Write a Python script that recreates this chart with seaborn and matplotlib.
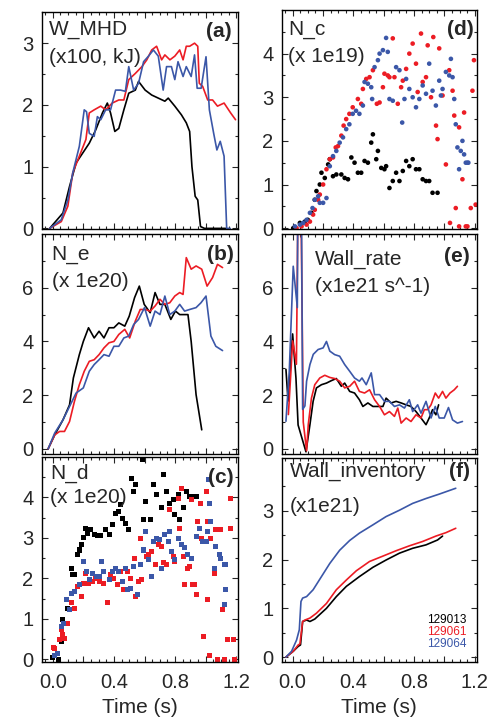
import matplotlib
matplotlib.use('Agg')
import matplotlib.pyplot as plt
import numpy as np
import pandas as pd
import seaborn as sns
from matplotlib.ticker import MultipleLocator, FixedLocator, FuncFormatter

SHOTS = ['129013', '129061', '129064']
COLORS = ['#000000', '#ec1c24', '#3b57a8']

# (a) W_MHD
WMHD_T_013 = [-0.02, 0.067, 0.11, 0.153, 0.196, 0.239, 0.282, 0.325, 0.357, 0.378, 0.406, 0.432, 0.465,
              0.497, 0.54, 0.561, 0.604, 0.647, 0.69, 0.733, 0.755, 0.798, 0.841, 0.873, 0.895, 0.91,
              0.931, 0.948, 0.966, 0.992, 1.13]
WMHD_013 = [0, 0.25, 0.68, 1.06, 1.22, 1.38, 1.6, 1.87, 2.03, 1.87, 1.57, 1.62, 1.92,
            2.19, 2.24, 2.38, 2.24, 2.16, 2.11, 2.06, 2.11, 1.98, 1.84, 1.71, 1.57, 1.0,
            0.52, 0.46, 0.03, 0, 0]
WMHD_T_061 = [-0.02, 0.056, 0.099, 0.131, 0.174, 0.217, 0.239, 0.271, 0.314, 0.346, 0.389, 0.432, 0.465,
              0.497, 0.54, 0.583, 0.615, 0.647, 0.679, 0.712, 0.733, 0.766, 0.798, 0.83, 0.852, 0.873,
              0.895, 0.927, 0.948, 0.958, 0.98, 1.013, 1.045, 1.077, 1.12, 1.163, 1.195]
WMHD_061 = [0, 0.11, 0.36, 0.9, 1.17, 1.44, 1.87, 1.92, 1.98, 1.92, 2.03, 2.08, 2.08,
            2.41, 2.51, 2.62, 2.73, 2.89, 2.95, 2.73, 2.81, 2.73, 2.79, 2.89, 2.73, 2.95,
            2.95, 3.0, 2.95, 2.35, 2.3, 2.08, 2.08, 1.98, 2.03, 1.87, 1.76]
WMHD_T_064 = [-0.02, 0.056, 0.099, 0.131, 0.174, 0.206, 0.221, 0.239, 0.271, 0.292, 0.314, 0.346, 0.378,
              0.411, 0.443, 0.475, 0.497, 0.529, 0.561, 0.594, 0.626, 0.658, 0.69, 0.722, 0.744, 0.776,
              0.798, 0.819, 0.852, 0.873, 0.905, 0.927, 0.944, 0.97, 1.002, 1.024, 1.052, 1.073, 1.095,
              1.12, 1.137, 1.16]
WMHD_064 = [0, 0.14, 0.46, 0.9, 1.33, 1.92, 1.89, 1.54, 1.49, 1.81, 1.76, 1.92, 1.92,
            2.24, 2.24, 2.22, 2.62, 2.24, 2.35, 2.7, 2.79, 2.89, 2.79, 2.24, 2.62, 2.62,
            2.41, 2.7, 2.46, 2.62, 2.46, 2.81, 2.27, 2.27, 2.78, 1.92, 1.54, 1.27, 1.41,
            1.17, 0, 0]

# (b) N_e
NE_T_013 = [-0.03, 0.013, 0.067, 0.11, 0.135, 0.174, 0.2, 0.234, 0.271, 0.303, 0.335, 0.368, 0.4, 0.432,
            0.471, 0.5, 0.535, 0.566, 0.598, 0.637, 0.669, 0.701, 0.733, 0.772, 0.802, 0.83, 0.862,
            0.884, 0.905, 0.937, 0.974]
NE_013 = [0, 0.52, 1.08, 1.64, 2.64, 3.51, 4.0, 4.51, 4.13, 4.38, 4.13, 4.51, 4.51, 4.69,
          4.57, 4.94, 5.63, 6.06, 5.38, 5.07, 5.82, 5.38, 5.38, 4.82, 5.13, 5.0, 5.0,
          5.0, 4.0, 2.02, 0.71]
NE_T_061 = [-0.03, 0.013, 0.045, 0.077, 0.11, 0.142, 0.174, 0.206, 0.239, 0.271, 0.303, 0.335, 0.368,
            0.4, 0.432, 0.471, 0.503, 0.54, 0.572, 0.604, 0.637, 0.669, 0.701, 0.733, 0.765, 0.798,
            0.83, 0.852, 0.873, 0.905, 0.937, 0.974, 1.009, 1.045, 1.077, 1.11]
NE_061 = [0, 0.52, 0.65, 0.65, 1.02, 1.77, 2.39, 2.89, 3.26, 3.32, 3.51, 3.76, 3.95,
          4.0, 4.26, 4.45, 4.13, 4.76, 5.19, 5.19, 5.13, 5.32, 5.57, 5.38, 5.44, 5.69,
          5.82, 5.75, 7.12, 6.69, 6.81, 6.69, 6.06, 6.38, 6.87, 6.75]
NE_T_064 = [-0.03, 0.013, 0.067, 0.11, 0.153, 0.2, 0.239, 0.271, 0.303, 0.335, 0.368, 0.4, 0.432,
            0.465, 0.497, 0.529, 0.561, 0.6, 0.637, 0.669, 0.701, 0.733, 0.765, 0.798, 0.83, 0.862,
            0.895, 0.937, 0.969, 1.002, 1.034, 1.066, 1.11]
NE_064 = [0, 0.59, 1.08, 1.58, 2.08, 2.27, 2.89, 3.14, 3.32, 3.51, 3.45, 3.82, 3.82,
          4.13, 4.2, 4.63, 4.82, 5.26, 4.57, 5.13, 5.0, 5.69, 5.0, 5.13, 5.38, 5.13,
          5.19, 5.26, 5.44, 5.69, 4.2, 3.82, 3.66]

# (c) N_d
ND_T_013 = [-0.002, 0.041, 0.056, 0.067, 0.099, 0.12, 0.131, 0.142, 0.164, 0.174, 0.185, 0.2, 0.217,
            0.228, 0.249, 0.271, 0.292, 0.314, 0.346, 0.368, 0.389, 0.411, 0.432, 0.443, 0.458, 0.475,
            0.497, 0.518, 0.529, 0.54, 0.587, 0.594, 0.604, 0.637, 0.658, 0.679, 0.712, 0.722, 0.744,
            0.765, 0.787, 0.798, 0.819, 0.83, 0.852, 0.873, 0.895, 0.927, 0.937]
ND_013 = [0.04, 0, 0.44, 0.97, 1.26, 2.25, 2.09, 2.09, 2.58, 2.7, 2.83, 3.02, 3.24,
          3.12, 3.2, 3.08, 3.05, 3.05, 3.2, 3.08, 3.32, 3.61, 3.65, 3.82, 3.49, 3.36,
          3.2, 4.48, 4.15, 4.31, 4.93, 3.46, 3.9, 3.46, 4.31, 4.07, 3.74, 4.56, 4.15,
          3.86, 3.94, 3.57, 4.07, 3.45, 3.74, 4.15, 4.02, 4.02, 4.02]
ND_T_061 = [0.002, 0.013, 0.045, 0.056, 0.067, 0.077, 0.099, 0.12, 0.142, 0.164, 0.185, 0.2, 0.217,
            0.234, 0.26, 0.282, 0.303, 0.335, 0.357, 0.378, 0.4, 0.421, 0.443, 0.465, 0.486, 0.508,
            0.535, 0.54, 0.561, 0.572, 0.583, 0.615, 0.626, 0.647, 0.669, 0.69, 0.712, 0.722, 0.744,
            0.765, 0.787, 0.798, 0.819, 0.83, 0.841, 0.852, 0.862, 0.884, 0.895, 0.905, 0.916, 0.927,
            0.937, 0.948, 0.966, 0.97, 0.987, 1.002, 1.013, 1.01, 1.023, 1.034, 1.055, 1.066, 1.077,
            1.098, 1.109, 1.12, 1.14, 1.163, 1.163, 1.18, 1.19]
ND_061 = [0.3, 0.27, 0.48, 0.73, 0.6, 0.52, 0.89, 1.39, 1.26, 1.8, 1.55, 1.88, 2.13,
          1.88, 1.92, 2.0, 1.92, 1.88, 1.39, 2.09, 2.0, 1.84, 2.17, 1.72, 2.17, 2.0,
          2.5, 1.55, 1.92, 2.99, 1.96, 2.54, 2.58, 2.66, 2.33, 2.83, 2.79, 2.38, 2.33,
          3.69, 2.54, 2.42, 3.98, 3.24, 4.23, 2.54, 1.84, 2.25, 2.29, 3.94, 1.84, 1.84,
          1.59, 3.41, 3.86, 2.99, 0.56, 4.15, 3.41, 1.47, 0.1, 2.99, 2.13, 3.2, 0.0,
          3.2, 1.22, 0.0, 0.48, 3.98, 3.24, 0.48, 0.0]
ND_T_064 = [0.013, 0.034, 0.056, 0.073, 0.088, 0.11, 0.12, 0.142, 0.174, 0.2, 0.221, 0.243, 0.26,
            0.285, 0.303, 0.32, 0.335, 0.368, 0.389, 0.411, 0.432, 0.454, 0.475, 0.486, 0.508, 0.529,
            0.551, 0.572, 0.594, 0.604, 0.626, 0.647, 0.658, 0.679, 0.701, 0.712, 0.733, 0.755, 0.765,
            0.776, 0.798, 0.819, 0.841, 0.862, 0.884, 0.905, 0.937, 0.958, 0.98, 1.002, 1.01, 1.02,
            1.023, 1.034, 1.055, 1.066, 1.087, 1.098, 1.12, 1.13, 1.13, 1.12]
ND_064 = [0.1, 0.15, 0.81, 0.89, 1.47, 1.22, 1.63, 1.67, 1.84, 2.42, 2.17, 1.96, 2.13,
          2.05, 2.05, 2.42, 2.17, 1.96, 2.17, 2.25, 2.17, 1.92, 2.25, 1.72, 1.76, 2.29,
          1.59, 2.33, 2.7, 3.16, 2.46, 2.05, 2.91, 2.99, 2.95, 2.25, 3.08, 2.91, 3.16,
          2.66, 2.46, 2.99, 2.83, 2.75, 2.58, 2.5, 3.03, 3.24, 2.91, 2.91, 3.16, 4.45,
          3.86, 3.41, 2.25, 2.79, 2.58, 2.5, 2.33, 2.33, 1.72, 1.34]

# (d) N_c
NC_T_013 = [0.004, 0.048, 0.081, 0.1, 0.124, 0.146, 0.157, 0.179, 0.19, 0.212, 0.234, 0.245, 0.266,
            0.288, 0.321, 0.343, 0.365, 0.387, 0.408, 0.43, 0.452, 0.474, 0.496, 0.518, 0.529, 0.551,
            0.562, 0.584, 0.605, 0.616, 0.638, 0.66, 0.682, 0.704, 0.726, 0.748, 0.769, 0.791, 0.813,
            0.835, 0.857, 0.879, 0.9, 0.922, 0.955]
NC_013 = [0, 0.12, 0.15, 0.19, 0.35, 0.65, 0.85, 1.0, 1.27, 1.15, 1.46, 1.58, 1.19,
          1.23, 1.23, 1.15, 1.12, 1.62, 1.5, 1.27, 1.27, 1.54, 1.5, 1.96, 2.15, 1.58,
          1.77, 1.38, 1.35, 1.42, 0.92, 1.08, 1.27, 1.08, 1.31, 1.54, 1.42, 1.58, 1.35,
          1.35, 1.12, 1.08, 1.08, 0.81, 0.81]
NC_T_061 = [0.026, 0.059, 0.092, 0.114, 0.135, 0.146, 0.168, 0.179, 0.201, 0.223, 0.245, 0.266, 0.284,
            0.299, 0.321, 0.336, 0.353, 0.374, 0.396, 0.43, 0.452, 0.463, 0.485, 0.507, 0.529, 0.555,
            0.573, 0.595, 0.605, 0.627, 0.638, 0.66, 0.671, 0.693, 0.715, 0.726, 0.748, 0.769, 0.791,
            0.813, 0.824, 0.846, 0.857, 0.879, 0.89, 0.912, 0.927, 0.945, 0.955, 0.966, 0.988, 1.01,
            1.032, 1.037, 1.054, 1.065, 1.075, 1.097, 1.097, 1.119, 1.13, 1.141, 1.152, 1.174, 1.185,
            1.195, 1.206]
NC_061 = [0, 0.04, 0.08, 0.15, 0.31, 0.42, 0.65, 0.77, 1.0, 1.35, 1.58, 1.62, 1.85,
          1.88, 2.12, 2.35, 2.5, 2.62, 2.77, 2.96, 2.85, 3.19, 3.42, 3.46, 3.62, 2.85,
          2.88, 3.23, 3.54, 3.5, 3.46, 4.35, 3.46, 2.85, 3.23, 3.38, 3.65, 4.0, 4.23,
          3.77, 3.12, 4.46, 3.35, 3.46, 4.19, 3.0, 4.38, 2.35, 2.04, 4.12, 3.04, 1.46,
          3.62, 0.12, 3.15, 2.58, 0.46, 2.31, 0.04, 1.12, 2.65, 0.04, 0.04, 0.46, 3.15,
          3.85, 0.54]
NC_T_064 = [0.015, 0.048, 0.07, 0.092, 0.114, 0.131, 0.146, 0.168, 0.179, 0.201, 0.223, 0.245, 0.266,
            0.288, 0.31, 0.332, 0.353, 0.374, 0.396, 0.418, 0.44, 0.463, 0.474, 0.496, 0.518, 0.524,
            0.54, 0.562, 0.573, 0.595, 0.616, 0.627, 0.638, 0.66, 0.682, 0.704, 0.722, 0.737, 0.748,
            0.769, 0.791, 0.813, 0.835, 0.857, 0.879, 0.9, 0.922, 0.944, 0.966, 0.977, 0.988, 1.01,
            1.032, 1.043, 1.054, 1.065, 1.075, 1.086, 1.097, 1.108, 1.119, 1.13, 1.141, 1.152, 1.158]
NC_064 = [0.04, 0.08, 0.12, 0.19, 0.35, 0.46, 0.65, 0.73, 0.58, 0.58, 0.69, 1.42, 1.65,
          1.77, 1.96, 2.08, 2.27, 2.38, 2.62, 2.69, 2.62, 2.81, 3.35, 3.31, 3.23, 2.96,
          3.69, 3.85, 4.0, 4.08, 4.36, 4.04, 2.96, 2.92, 3.69, 3.62, 2.42, 2.96, 3.42,
          3.19, 3.0, 2.77, 2.96, 3.27, 3.08, 3.77, 3.15, 2.81, 3.38, 3.04, 3.19, 3.58,
          3.5, 3.88, 3.46, 2.96, 2.38, 1.85, 1.35, 1.77, 2.0, 1.69, 1.5, 1.5, 1.5]

# (e) Wall_rate
WR_T_013 = [-0.044, -0.03, 0.0, 0.022, 0.036, 0.088, 0.114, 0.135, 0.157, 0.19, 0.223, 0.255, 0.288,
            0.321, 0.343, 0.376, 0.408, 0.44, 0.463, 0.496, 0.529, 0.562, 0.595, 0.616, 0.649, 0.682,
            0.715, 0.748, 0.78, 0.813, 0.846, 0.879, 0.9, 0.922, 0.944, 0.962]
WR_013 = [2.96, 1.78, 4.28, 2.63, 0.89, -0.11, 0.9, 1.77, 2.27, 2.39, 2.45, 2.54, 2.62,
          2.33, 2.45, 2.14, 2.08, 1.83, 1.58, 1.71, 1.58, 1.58, 1.58, 1.89, 1.71, 1.77,
          1.71, 1.64, 1.58, 1.39, 1.15, 0.9, 1.15, 1.46, 1.27, 1.64]
WR_T_061 = [-0.028, -0.01, 0.0, 0.012, 0.025, 0.04, 0.05, 0.07, 0.092, 0.103, 0.124, 0.146, 0.179,
            0.212, 0.245, 0.277, 0.31, 0.343, 0.376, 0.408, 0.44, 0.474, 0.507, 0.54, 0.573, 0.605,
            0.638, 0.671, 0.693, 0.715, 0.748, 0.78, 0.813, 0.846, 0.868, 0.89, 0.912, 0.94, 0.962,
            0.988, 1.01, 1.037, 1.065, 1.086]
WR_061 = [1.28, 3.0, 4.02, 3.6, 3.15, 12.0, 12.0, 1.0, -0.07, 0.9, 1.89, 2.39, 2.64,
          2.74, 2.66, 2.62, 2.52, 2.27, 2.33, 2.52, 2.14, 2.08, 2.2, 1.83, 1.58, 1.27,
          1.39, 1.21, 1.52, 0.96, 1.15, 1.02, 1.27, 1.15, 1.46, 1.46, 1.64, 2.08, 1.89,
          2.14, 1.89, 2.08, 2.2, 2.33]
WR_T_064 = [-0.044, -0.022, 0.004, 0.018, 0.031, 0.036, 0.055, 0.066, 0.081, 0.092, 0.114, 0.136, 0.168,
            0.201, 0.223, 0.245, 0.277, 0.31, 0.343, 0.376, 0.408, 0.44, 0.457, 0.485, 0.518, 0.54,
            0.573, 0.605, 0.638, 0.671, 0.704, 0.737, 0.769, 0.791, 0.824, 0.846, 0.879, 0.912, 0.94,
            0.966, 0.999, 1.027, 1.054, 1.086, 1.119]
WR_064 = [1.03, 2.9, 6.8, 6.0, 5.26, 12.0, 12.0, 1.47, 1.6, 2.52, 3.14, 3.52, 3.7,
          3.76, 4.0, 3.64, 3.51, 3.45, 3.14, 2.89, 2.64, 2.52, 2.64, 2.39, 2.83, 2.02,
          2.02, 1.77, 1.77, 1.58, 1.64, 1.52, 1.83, 1.39, 1.64, 1.33, 1.77, 1.15, 1.58,
          1.15, 1.15, 1.54, 1.08, 0.96, 1.02]

# (f) Wall_inventory
WI_T_013 = [-0.044, 0.004, 0.037, 0.052, 0.066, 0.092, 0.114, 0.146, 0.223, 0.288, 0.354, 0.44, 0.529,
            0.616, 0.704, 0.791, 0.879, 0.955, 0.988]
WI_013 = [0, 0.12, 0.22, 0.25, 0.73, 0.76, 0.73, 0.78, 1.0, 1.24, 1.45, 1.65, 1.84,
          1.99, 2.13, 2.23, 2.3, 2.4, 2.48]
WI_T_061 = [-0.044, 0.004, 0.037, 0.048, 0.066, 0.081, 0.114, 0.157, 0.223, 0.288, 0.354, 0.42, 0.507,
            0.595, 0.682, 0.769, 0.857, 0.944, 1.01, 1.075]
WI_061 = [0, 0.12, 0.25, 0.27, 0.73, 0.76, 0.8, 0.9, 1.1, 1.38, 1.58, 1.77, 1.96,
          2.07, 2.18, 2.28, 2.37, 2.48, 2.55, 2.64]
WI_T_064 = [-0.044, -0.007, 0.026, 0.044, 0.055, 0.066, 0.092, 0.135, 0.19, 0.245, 0.31, 0.376, 0.44,
            0.529, 0.616, 0.704, 0.791, 0.879, 0.966, 1.075]
WI_064 = [0, 0.12, 0.35, 0.56, 1.14, 1.21, 1.24, 1.38, 1.65, 1.92, 2.19, 2.39, 2.54,
          2.71, 2.88, 3.01, 3.15, 3.25, 3.34, 3.46]


def to_long(series):
    frames = []
    for shot, (t, v) in zip(SHOTS, series):
        frames.append(pd.DataFrame({'time': t, 'value': v, 'shot': shot}))
    return pd.concat(frames, ignore_index=True)


PANELS = [
    dict(series=[(WMHD_T_013, WMHD_013), (WMHD_T_061, WMHD_061), (WMHD_T_064, WMHD_064)],
         kind='line', box=(12.3, 229, 41.7, 238.3), ylim=(-0.01, 3.5), major=1, minor=0.5,
         title=('W_MHD', '(x100, kJ)'), tx=0.037, ty=(0.895, 0.765), letter='(a)', lx=0.966, ly=0.887),
    dict(series=[(NE_T_013, NE_013), (NE_T_061, NE_061), (NE_T_064, NE_064)],
         kind='line', box=(234, 454, 41.7, 238.3), ylim=(-0.19, 8.0), major=2, minor=1,
         title=('N_e', '(x 1e20)'), tx=0.051, ty=(0.882, 0.76), letter='(b)', lx=0.975, ly=0.882),
    dict(series=[(ND_T_013, ND_013), (ND_T_061, ND_061), (ND_T_064, ND_064)],
         kind='square', box=(457, 662, 41.7, 238.3), ylim=(-0.07, 5.0), major=1, minor=0.5,
         title=('N_d', '(x 1e20)'), tx=0.042, ty=(0.896, 0.774), letter='(c)', lx=0.975, ly=0.872),
    dict(series=[(NC_T_013, NC_013), (NC_T_061, NC_061), (NC_T_064, NC_064)],
         kind='dot', box=(10, 229, 281.7, 476.7), ylim=(-0.02, 5.0), major=1, minor=0.5,
         title=('N_c', '(x 1e19)'), tx=0.034, ty=(0.886, 0.764), letter='(d)', lx=0.985, ly=0.886),
    dict(series=[(WR_T_013, WR_013), (WR_T_061, WR_061), (WR_T_064, WR_064)],
         kind='line', box=(234, 454, 281.7, 476.7), ylim=(-0.19, 8.0), major=2, minor=1,
         title=('Wall_rate', '(x1e21 s^-1)'), tx=0.171, ty=(0.859, 0.738), letter='(e)', lx=0.964, ly=0.874),
    dict(series=[(WI_T_013, WI_013), (WI_T_061, WI_061), (WI_T_064, WI_064)],
         kind='line', box=(458, 662, 281.7, 476.7), ylim=(-0.1, 4.08), major=1, minor=0.5,
         title=('Wall_inventory', '(x1e21)'), tx=0.043, ty=(0.908, 0.737), letter='(f)', lx=0.966, ly=0.908),
]

W, H = 495, 720


def main():
    sns.set_style('ticks')
    plt.rcParams['font.family'] = ['Liberation Sans', 'DejaVu Sans']
    plt.rcParams['xtick.direction'] = 'in'
    plt.rcParams['ytick.direction'] = 'in'

    fig = plt.figure(figsize=(W / 100, H / 100), dpi=100)
    palette = dict(zip(SHOTS, COLORS))

    for i, p in enumerate(PANELS):
        top, bot, left, right = p['box']
        ax = fig.add_axes([left / W, 1 - bot / H, (right - left) / W, (bot - top) / H])
        df = to_long(p['series'])
        if p['kind'] == 'line':
            for shot in SHOTS:
                sns.lineplot(data=df[df.shot == shot], x='time', y='value', color=palette[shot],
                             sort=False, estimator=None, lw=1.2, ax=ax, legend=False)
        else:
            marker = 's' if p['kind'] == 'square' else 'o'
            size = 13 if p['kind'] == 'square' else 11
            sns.scatterplot(data=df, x='time', y='value', hue='shot', palette=palette,
                            marker=marker, s=size, linewidth=0, legend=False, ax=ax)

        ymax = p['ylim'][1]
        ax.set_xlim(-0.072, 1.213)
        ax.set_ylim(*p['ylim'])
        ax.xaxis.set_major_locator(MultipleLocator(0.2))
        ax.xaxis.set_minor_locator(MultipleLocator(0.05))
        ax.yaxis.set_major_locator(FixedLocator(np.arange(0, ymax - 0.3, p['major'])))
        ax.yaxis.set_minor_locator(FixedLocator(np.arange(0, ymax - 0.1, p['minor'])))
        ax.tick_params(which='both', top=True, right=True, direction='in', width=0.8)
        ax.tick_params(which='major', length=4, labelsize=14.5, pad=6)
        ax.tick_params(which='minor', length=2)
        for s in ax.spines.values():
            s.set_linewidth(1.0)
            s.set_color('black')
        ax.set_ylabel('')
        if i in (2, 5):
            ax.xaxis.set_major_formatter(FuncFormatter(
                lambda v, pos: f'{v:.1f}' if abs(round(v / 0.4) * 0.4 - v) < 1e-6 else ''))
            ax.set_xlabel('Time (s)', fontsize=15, labelpad=4)
            ax.tick_params(axis='x', pad=8)
        else:
            ax.set_xticklabels([])
            ax.set_xlabel('')

        ax.text(p['tx'], p['ty'][0], p['title'][0], transform=ax.transAxes, fontsize=15, va='baseline')
        ax.text(p['tx'], p['ty'][1], p['title'][1], transform=ax.transAxes, fontsize=15, va='baseline')
        ax.text(p['lx'], p['ly'], p['letter'], transform=ax.transAxes, fontsize=15,
                fontweight='bold', ha='right', va='baseline')

        if i == 5:
            for shot, c, y in zip(SHOTS, COLORS, [0.193, 0.132, 0.072]):
                ax.text(0.949, y, shot, color=c, transform=ax.transAxes, fontsize=8.5,
                        ha='right', va='baseline')

    fig.savefig('out.png', dpi=100)


if __name__ == '__main__':
    main()
